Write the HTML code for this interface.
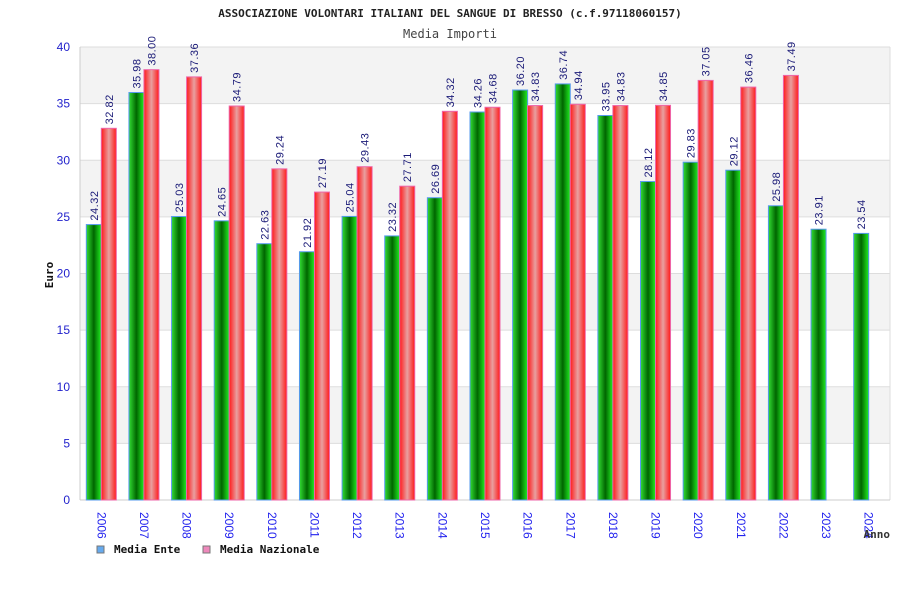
<!DOCTYPE html>
<html><head><meta charset="utf-8"><style>
body{margin:0;background:#fff;}
svg{display:block;font-family:"DejaVu Sans Mono","Liberation Mono",monospace;}
.sans{font-family:"Liberation Sans","DejaVu Sans",sans-serif;}
</style></head><body>
<svg id="chart" width="900" height="600">
<defs>
<linearGradient id="gG" x1="0" x2="1" y1="0" y2="0"><stop offset="0" stop-color="#33dd33"/><stop offset="0.5" stop-color="#006600"/><stop offset="1" stop-color="#22ee22"/></linearGradient>
<linearGradient id="gR" x1="0" x2="1" y1="0" y2="0"><stop offset="0" stop-color="#ff1a1a"/><stop offset="0.5" stop-color="#e8a0a0"/><stop offset="1" stop-color="#ff1a1a"/></linearGradient>
</defs>
<text x="450" y="17" text-anchor="middle" font-size="11" font-weight="bold" fill="#222">ASSOCIAZIONE VOLONTARI ITALIANI DEL SANGUE DI BRESSO (c.f.97118060157)</text>
<text x="450" y="38" text-anchor="middle" font-size="12" fill="#444">Media Importi</text>
<g id="bands"></g>
<g id="bars"></g>
<text transform="translate(53,275) rotate(-90)" text-anchor="middle" font-size="11" font-weight="bold" fill="#111">Euro</text>
<text x="890" y="538" text-anchor="end" font-size="11" font-weight="bold" fill="#333">Anno</text>
<g>
<rect x="97" y="546" width="7" height="7" fill="#66aaee" stroke="#777"/>
<text x="114" y="553" font-size="11" font-weight="bold" fill="#111">Media Ente</text>
<rect x="203" y="546" width="7" height="7" fill="#ee88bb" stroke="#777"/>
<text x="220" y="553" font-size="11" font-weight="bold" fill="#111">Media Nazionale</text>
</g>
</svg>
<script>
const categories=["2006","2007","2008","2009","2010","2011","2012","2013","2014","2015","2016","2017","2018","2019","2020","2021","2022","2023","2024"];
const enteValues=[24.32,35.98,25.03,24.65,22.63,21.92,25.04,23.32,26.69,34.26,36.20,36.74,33.95,28.12,29.83,29.12,25.98,23.91,23.54];
const nazValues=[32.82,38.00,37.36,34.79,29.24,27.19,29.43,27.71,34.32,34.68,34.83,34.94,34.83,34.85,37.05,36.46,37.49,null,null];
const yTicks=[0,5,10,15,20,25,30,35,40];
const NS="http://www.w3.org/2000/svg";
const L=80,R=890,T=47,B=500,yMax=40;
const y=v=>B-(v/yMax)*(B-T);
const step=(R-L)/categories.length;
const xc=i=>L+step*(i+0.5);
const bands=document.getElementById('bands'),bars=document.getElementById('bars');
function mk(tag,attrs,parent){const e=document.createElementNS(NS,tag);for(const k in attrs)e.setAttribute(k,attrs[k]);parent.appendChild(e);return e;}
for(let i=0;i<yTicks.length-1;i++){
 const a=yTicks[i],b=yTicks[i+1];
 const r=mk('rect',{x:L,y:y(b),width:R-L,height:y(a)-y(b),fill:(i%2===1)?'#f3f3f3':'#ffffff'},bands);
 
 
}
yTicks.forEach(t=>{
 const l=mk('line',{x1:L,x2:R,y1:y(t),y2:y(t),stroke:'#dddddd'},bands);
 
 
 const tx=mk('text',{x:L-10,y:y(t)+4,'text-anchor':'end','font-size':12,fill:'#2222cc','class':'sans'},bands);
 tx.textContent=t;
 
 
});
mk('line',{x1:L,x2:L,y1:T,y2:B,stroke:'#cccccc'},bands);
mk('line',{x1:R,x2:R,y1:T,y2:B,stroke:'#dddddd'},bands);
mk('line',{x1:L,x2:R,y1:B,y2:B,stroke:'#cccccc'},bands);
const bw=15;
function label(x,v,parent){
 const t=mk('text',{transform:`translate(${x+4},${y(v)-4}) rotate(-90)`,'font-size':11,fill:'#1a1a77','class':'sans','letter-spacing':'0.5'},parent);
 t.textContent=v.toFixed(2);
 
 
}
categories.forEach((c,i)=>{
 const cx=xc(i);
 const e=enteValues[i];
 if(e!=null){
  const r=mk('rect',{x:cx-bw,y:y(e),width:bw,height:B-y(e),fill:'url(#gG)',stroke:'#5599ee','stroke-width':1},bars);
  
  
  label(cx-bw/2,e,bars);
 }
 const n=nazValues[i];
 if(n!=null){
  const r=mk('rect',{x:cx,y:y(n),width:bw,height:B-y(n),fill:'url(#gR)',stroke:'#ee66aa','stroke-width':1},bars);
  
  
  label(cx+bw/2,n,bars);
 }
 const t=mk('text',{transform:`translate(${cx-4},${B+12}) rotate(90)`,'font-size':12,fill:'#2222ee','class':'sans'},bars);
 t.textContent=c;
 
 
});
</script>
</body></html>
